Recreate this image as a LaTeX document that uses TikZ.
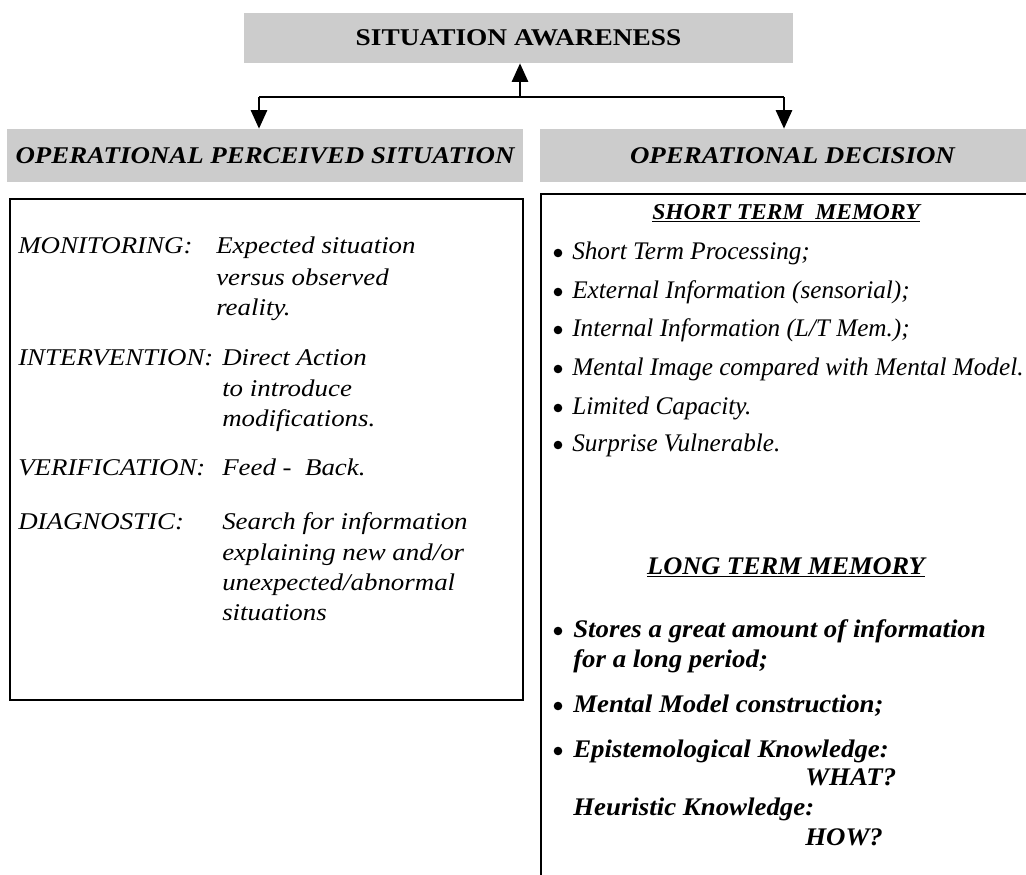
\documentclass[tikz,border=0pt]{standalone}
\usepackage{fontspec}
\setmainfont{Liberation Serif}
\usetikzlibrary{arrows.meta}
\definecolor{hdr}{RGB}{204,204,204}
\newcommand\TX[1]{\scalebox{1.14}[1]{#1}}
\newcommand\HX[1]{\scalebox{1.12}[1]{#1}}
\newcommand\LX[1]{\scalebox{1.12}[1]{#1}}
\newcommand\RX[1]{\scalebox{0.995}[1]{#1}}
\newcommand\BX[1]{\scalebox{1.06}[1]{#1}}
\newcommand\SX[1]{\scalebox{1.04}[1]{#1}}
\begin{document}
\begin{tikzpicture}[x=0.75pt,y=-0.75pt,
  hbox/.style={fill=hdr, draw=none, inner sep=0pt},
  frame/.style={draw=black, line width=2pt},
  conn/.style={line width=2.2pt, -{Triangle[length=14pt,width=12pt]}},
  wire/.style={line width=2.2pt},
  ttl/.style={font=\fontsize{18}{20}\selectfont\bfseries},
  hdt/.style={font=\fontsize{18}{20}\selectfont\bfseries\itshape},
  ltxt/.style={font=\fontsize{18}{20}\selectfont\itshape, anchor=base west, inner sep=0pt},
  rtxt/.style={font=\fontsize{19}{21}\selectfont\itshape, anchor=base west, inner sep=0pt},
  rbold/.style={font=\fontsize{19}{21}\selectfont\bfseries\itshape, anchor=base west, inner sep=0pt},
  stm/.style={font=\fontsize{17}{20}\selectfont\bfseries\itshape, anchor=base, inner sep=0pt},
  ltm/.style={font=\fontsize{19}{21}\selectfont\bfseries\itshape, anchor=base, inner sep=0pt},
  bul/.style={fill=black}
]
\useasboundingbox (0,0) rectangle (1026,875);
\fill[white] (0,0) rectangle (1026,875);

% header boxes
\node[hbox, ttl, minimum width=411.75pt, minimum height=37.5pt] (sa) at (518.5,38) {\TX{SITUATION AWARENESS}};
\node[hbox, hdt, minimum width=387pt, minimum height=39.75pt] (ops) at (265,155.5) {\HX{OPERATIONAL PERCEIVED SITUATION}};
\node[hbox, hdt, minimum width=378.75pt, minimum height=39.75pt] (od) at (792.5,155.5) {\HX{OPERATIONAL DECISION}};

% connectors
\coordinate (j) at (520,97);
\coordinate (la) at (259,97);
\coordinate (ra) at (784,97);
\draw[conn] (j) -- (j |- sa.south);
\draw[wire] (la) -- (ra);
\draw[conn] (la) -- (la |- ops.north);
\draw[conn] (ra) -- (ra |- od.north);

% frames
\draw[frame] (10,199) rectangle (523,700);
\draw[frame] (541,194) rectangle (1045,876);

% left content
\node[ltxt] (m1) at (18,253) {\LX{MONITORING:}};
\node[ltxt] (m2) at (216,253) {\LX{Expected situation}};
\node[ltxt] (m3) at (216,285) {\LX{versus observed}};
\node[ltxt] (m4) at (216,315) {\LX{reality.}};
\node[ltxt] (i1) at (18,365) {\LX{INTERVENTION:}};
\node[ltxt] (i2) at (222,365) {\LX{Direct Action}};
\node[ltxt] (i3) at (222,396) {\LX{to introduce}};
\node[ltxt] (i4) at (222,426) {\LX{modifications.}};
\node[ltxt] (v1) at (18,475) {\LX{VERIFICATION:}};
\node[ltxt] (v2) at (222,475) {\LX{Feed -\ \ Back.}};
\node[ltxt] (d1) at (18,529) {\LX{DIAGNOSTIC:}};
\node[ltxt] (d2) at (222,529) {\LX{Search for information}};
\node[ltxt] (d3) at (222,560) {\LX{explaining new and/or}};
\node[ltxt] (d4) at (222,590) {\LX{unexpected/abnormal}};
\node[ltxt] (d5) at (222,620) {\LX{situations}};

% right content: short term memory
\node[stm] (stmh) at (786,219) {\SX{\underline{SHORT TERM\ \ MEMORY}}};
\foreach \yy/\nm/\tx in {259/s1/{Short Term Processing;},
                         298/s2/{External Information (sensorial);},
                         336/s3/{Internal Information (L/T Mem.);},
                         375/s4/{Mental Image compared with Mental Model.},
                         414/s5/{Limited Capacity.},
                         451/s6/{Surprise Vulnerable.}}{
  \fill[bul] (558,\yy-6) circle (4.3);
  \node[rtxt] (\nm) at (572,\yy) {\RX{\tx}};
}

% long term memory
\node[ltm] (ltmh) at (786,574) {\SX{\underline{LONG TERM MEMORY}}};
\fill[bul] (558,631) circle (4.3);
\node[rbold] (l1) at (573,637) {\BX{Stores a great amount of information}};
\node[rbold] (l2) at (573,667) {\BX{for a long period;}};
\fill[bul] (558,706) circle (4.3);
\node[rbold] (l3) at (573,712) {\BX{Mental Model construction;}};
\fill[bul] (558,751) circle (4.3);
\node[rbold] (l4) at (573,757) {\BX{Epistemological Knowledge:}};
\node[rbold] (l5) at (805,785) {\BX{WHAT?}};
\node[rbold] (l6) at (573,815) {\BX{Heuristic Knowledge:}};
\node[rbold] (l7) at (805,845) {\BX{HOW?}};
\end{tikzpicture}
\end{document}
